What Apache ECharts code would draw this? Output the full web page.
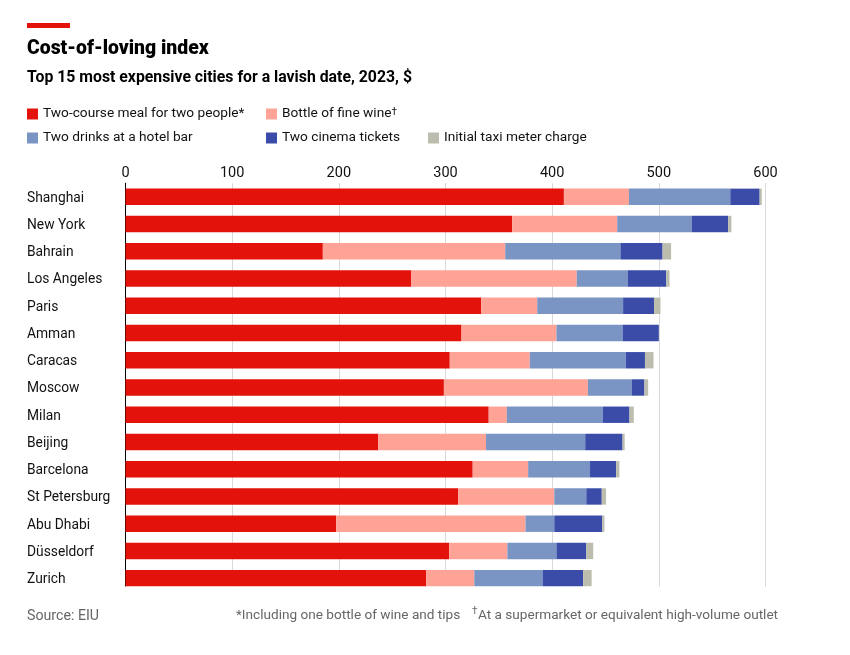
<!DOCTYPE html>
<html><head><meta charset="utf-8">
<style>html,body{margin:0;padding:0;background:#fff}#c{width:850px;height:655px}</style>
<script src="https://cdn.jsdelivr.net/npm/echarts@6/dist/echarts.min.js"></script>
</head><body><div id="c"></div>
<script>
const cities = ["Shanghai","New York","Bahrain","Los Angeles","Paris","Amman","Caracas","Moscow","Milan","Beijing","Barcelona","St Petersburg","Abu Dhabi","Düsseldorf","Zurich"];
const meal = [411,362.5,185,268,333.5,315,304,298.5,340.5,237,325.5,312,197.5,303.5,282];
const wine = [61,98.5,171,155,52.5,89,75,135,17,101,52,90,177.5,54.5,45];
const drinks = [95,70,108,48,80.5,62,90,41,90,93,58,30,27,46,64];
const cinema = [27.5,34,39.5,36,29,34,18,12,25,35,24.5,14.5,45,28,38];
const taxi = [2,3,8,3,6,0,8,3.5,4,2,3,4,2,6.5,8];
const seriesNames = ["Two-course meal for two people*","Bottle of fine wine†","Two drinks at a hotel bar","Two cinema tickets","Initial taxi meter charge"];
const title = "Cost-of-loving index";
const subtitle = "Top 15 most expensive cities for a lavish date, 2023, $";
const source = "Source: EIU";
const note1 = "*Including one bottle of wine and tips";
const note2 = "At a supermarket or equivalent high-volume outlet";

const font = 'Roboto,sans-serif';
const colors = ["#E3120B","#FFA396","#7A94C4","#3A4CA8","#BDBDAE"];
const values = [meal,wine,drinks,cinema,taxi];
const legendPos = [[27,107],[266,107],[27,131],[266,131],[428,131]];
const chart = echarts.init(document.getElementById('c'),null,{renderer:'canvas'});
chart.setOption({
  animation:false,
  backgroundColor:'#fff',
  color:colors,
  grid:{left:125.5,top:183.2,width:640,height:408.6},
  xAxis:{type:'value',position:'top',min:0,max:600,interval:100,
    axisLine:{show:false},axisTick:{show:false},
    axisLabel:{fontFamily:font,fontSize:14.5,color:'#111',margin:2},
    splitLine:{lineStyle:{color:'#D9D9D9',width:1}}},
  yAxis:{type:'category',inverse:true,data:cities,
    axisLine:{show:true,lineStyle:{color:'#000',width:1}},axisTick:{show:false},
    axisLabel:{fontFamily:font,fontSize:13.8,color:'#111',align:'left',margin:98.5,verticalAlign:'top',lineHeight:3}},
  legend:seriesNames.map((n,i)=>({data:[n],left:legendPos[i][0],top:legendPos[i][1],padding:0,
    icon:'rect',itemWidth:11,itemHeight:11,selectedMode:false,
    formatter:s=>s.endsWith('†')?'{a|'+s.slice(0,-1)+'}{s|†}':'{a|'+s+'}',
    textStyle:{rich:{a:{fontFamily:font,fontSize:13.7,color:'#111'},
      s:{fontFamily:font,fontSize:10,color:'#111',verticalAlign:'top',lineHeight:14}}}})),
  series:seriesNames.map((n,i)=>({name:n,type:'bar',stack:'t',data:values[i],barWidth:16.4,
    itemStyle:{color:colors[i]}})),
  graphic:[
    {type:'rect',left:120,top:586.5,z:50,shape:{width:660,height:8},style:{fill:'#fff'}},
    {type:'rect',left:27,top:23,z:60,shape:{width:43,height:5},style:{fill:'#E3120B'}},
    {type:'text',left:27,top:38.5,z:60,scaleX:0.97,style:{text:title,fontFamily:font,fontWeight:900,fontSize:20,fill:'#000'}},
    {type:'text',left:27,top:69.5,z:60,scaleX:0.93,style:{text:subtitle,fontFamily:font,fontWeight:700,fontSize:17,fill:'#000'}},
    {type:'text',left:27,top:609,z:60,style:{text:source,fontFamily:font,fontSize:14.2,fill:'#666'}},
    {type:'text',left:236,top:609,z:60,style:{text:note1,fontFamily:font,fontSize:13.6,fill:'#666'}},
    {type:'text',left:472,top:606,z:60,style:{text:'†',fontFamily:font,fontSize:10,fill:'#666'}},
    {type:'text',left:478,top:609,z:60,style:{text:note2,fontFamily:font,fontSize:13.6,fill:'#666'}}
  ]
});
</script></body></html>
